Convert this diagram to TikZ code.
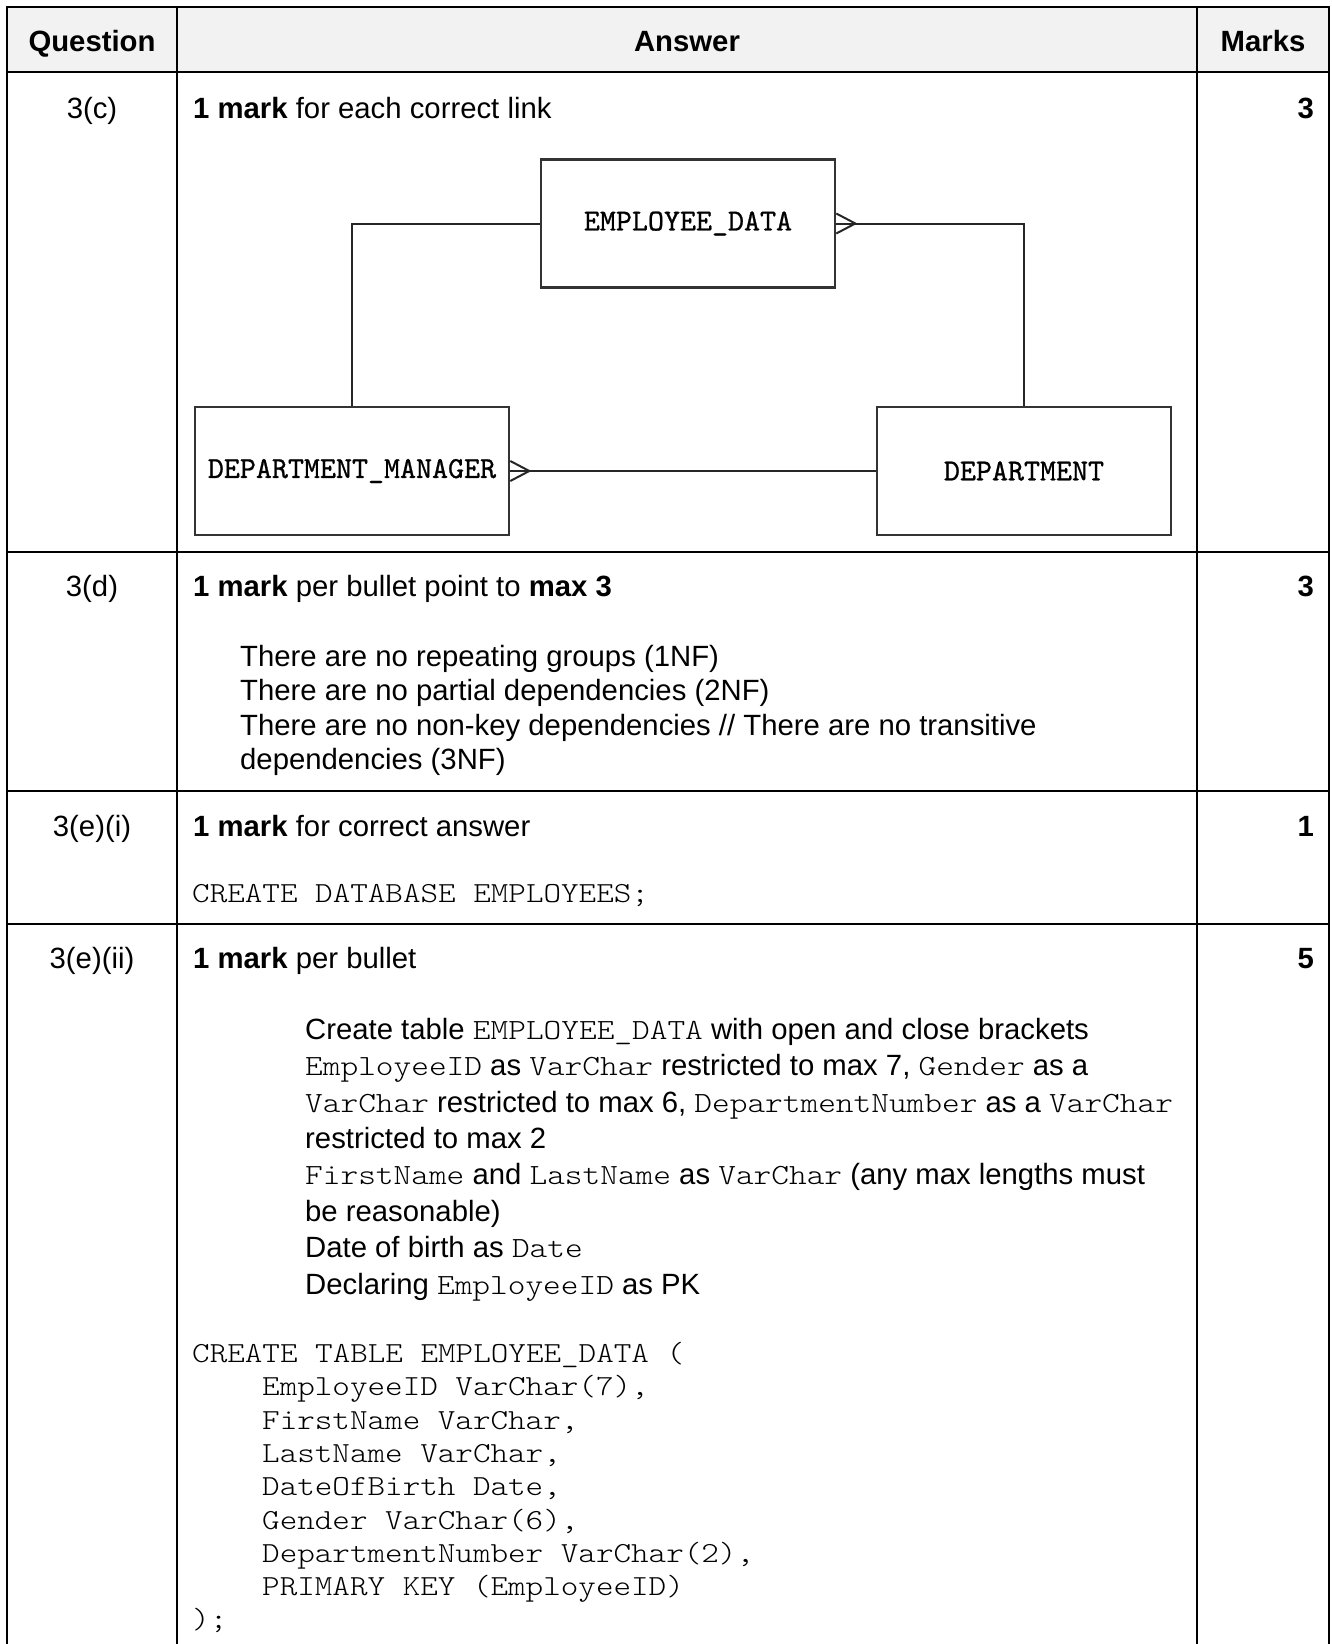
\documentclass[tikz,border=0pt]{standalone}
\usepackage{fontspec}
\setmainfont{Liberation Sans}
\setmonofont[FakeStretch=1.15]{lmmonolt10-regular.otf}
\newfontfamily\erfont[FakeStretch=1.0,FakeBold=0.8]{lmmono10-regular.otf}
\usetikzlibrary{calc}
\definecolor{hdrgray}{HTML}{F2F2F2}
\tikzset{
  grid/.style={line width=2.2pt, draw=black},
  txt/.style={anchor=base west, inner sep=0pt, font=\fontsize{29.3}{34.5}\selectfont},
  ctr/.style={anchor=base, inner sep=0pt, font=\fontsize{29.3}{34.5}\selectfont},
  hdr/.style={anchor=base, inner sep=0pt, font=\bfseries\fontsize{29.3}{34.5}\selectfont},
  mk/.style={anchor=base east, inner sep=0pt, font=\bfseries\fontsize{29.3}{34.5}\selectfont},
  code/.style={anchor=base west, inner sep=0pt, font=\ttfamily\fontsize{29.1}{33.3}\selectfont},
  entity/.style={draw=black!80, line width=2.6pt, inner sep=0pt, minimum height=128pt,
    font=\erfont\fontsize{30.5}{30.5}\selectfont},
  link/.style={line width=2pt, draw=black!85},
}
\begin{document}
\begin{tikzpicture}[x=1pt,y=-1pt]
\useasboundingbox (0,0) rectangle (1332,1644);
% header background
\fill[hdrgray] (7,7) rectangle (1329,72);
% table grid
\draw[grid] (7,1644) -- (7,7) -- (1329,7) -- (1329,1644);
\draw[grid] (177,7) -- (177,1644);
\draw[grid] (1197,7) -- (1197,1644);
\draw[grid] (7,72) -- (1329,72);
\draw[grid] (7,552) -- (1329,552);
\draw[grid] (7,791) -- (1329,791);
\draw[grid] (7,924) -- (1329,924);
% header
\node[hdr] (hq) at (92,51) {Question};
\node[hdr] (ha) at (687,51) {Answer};
\node[hdr] (hm) at (1263,51) {Marks};
% row 3(c)
\node[ctr] (q1) at (92,118) {3(c)};
\node[txt] (a1) at (193,118) {\textbf{1 mark} for each correct link};
\node[mk] (m1) at (1314,118) {3};
% ER diagram
\node[entity, minimum width=294pt] (ED) at (688,223.5) {EMPLOYEE\_DATA};
\node[entity, minimum width=314pt] (DM) at (352,471) {DEPARTMENT\_MANAGER};
\node[entity, minimum width=294pt] (DP) at (1024,471) {DEPARTMENT};
\coordinate (cfA) at ($(ED.east)+(19,0)$);
\coordinate (cfB) at ($(DM.east)+(19,0)$);
\draw[link] (ED.west) -| (DM.north);
\draw[link] (ED.east) -- (cfA) -| (DP.north);
\draw[link] ($(ED.east)+(0,-10)$) -- (cfA) -- ($(ED.east)+(0,10)$);
\draw[link] (DM.east) -- (cfB) -- (DP.west);
\draw[link] ($(DM.east)+(0,-10)$) -- (cfB) -- ($(DM.east)+(0,10)$);
% row 3(d)
\node[ctr] (q2) at (92,596) {3(d)};
\node[txt] (a2) at (193,596) {\textbf{1 mark} per bullet point to \textbf{max 3}};
\node[mk] (m2) at (1314,596) {3};
\node[txt] (b21) at (240,666) {There are no repeating groups (1NF)};
\node[txt] (b22) at (240,700.5) {There are no partial dependencies (2NF)};
\node[txt] (b23) at (240,735) {There are no non-key dependencies // There are no transitive};
\node[txt] (b24) at (240,769.5) {dependencies (3NF)};
% row 3(e)(i)
\node[ctr] (q3) at (92,836) {3(e)(i)};
\node[txt] (a3) at (193,836) {\textbf{1 mark} for correct answer};
\node[mk] (m3) at (1314,836) {1};
\node[code] (c3) at (192,902) {CREATE DATABASE EMPLOYEES;};
% row 3(e)(ii)
\node[ctr] (q4) at (92,968) {3(e)(ii)};
\node[txt] (a4) at (193,968) {\textbf{1 mark} per bullet};
\node[mk] (m4) at (1314,968) {5};
\node[txt] (b41) at (305,1039.5) {Create table \texttt{EMPLOYEE\_DATA} with open and close brackets};
\node[txt] (b42) at (305,1075.9) {\texttt{EmployeeID} as \texttt{VarChar} restricted to max 7, \texttt{Gender} as a};
\node[txt] (b43) at (305,1112.2) {\texttt{VarChar} restricted to max 6, \texttt{DepartmentNumber} as a \texttt{VarChar}};
\node[txt] (b44) at (305,1148.6) {restricted to max 2};
\node[txt] (b45) at (305,1184.9) {\texttt{FirstName} and \texttt{LastName} as \texttt{VarChar} (any max lengths must};
\node[txt] (b46) at (305,1221.3) {be reasonable)};
\node[txt] (b47) at (305,1257.6) {Date of birth as \texttt{Date}};
\node[txt] (b48) at (305,1294) {Declaring \texttt{EmployeeID} as PK};
% SQL code
\node[code] (k1) at (192,1362.5) {CREATE TABLE EMPLOYEE\_DATA (};
\node[code] (k2) at (262,1395.8) {EmployeeID VarChar(7),};
\node[code] (k3) at (262,1429.1) {FirstName VarChar,};
\node[code] (k4) at (262,1462.4) {LastName VarChar,};
\node[code] (k5) at (262,1495.7) {DateOfBirth Date,};
\node[code] (k6) at (262,1529) {Gender VarChar(6),};
\node[code] (k7) at (262,1562.3) {DepartmentNumber VarChar(2),};
\node[code] (k8) at (262,1595.6) {PRIMARY KEY (EmployeeID)};
\node[code] (k9) at (192,1628.9) {);};
\end{tikzpicture}
\end{document}
